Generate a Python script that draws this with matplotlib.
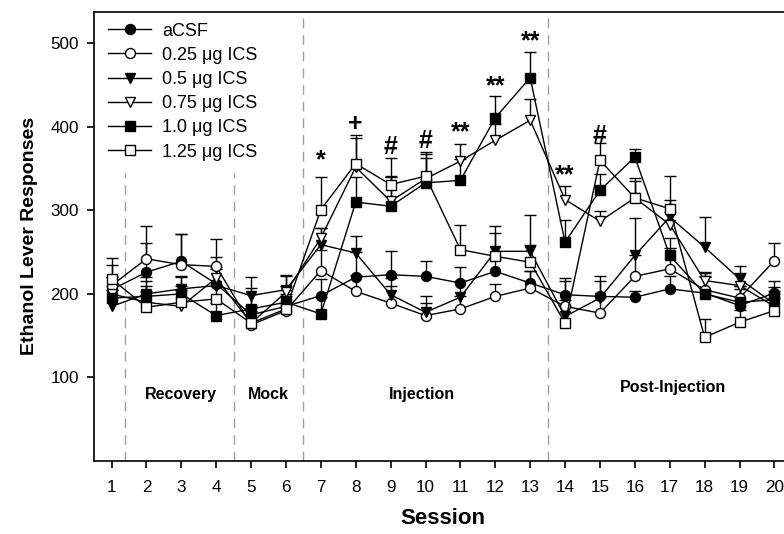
import numpy as np
import matplotlib.pyplot as plt

plt.rcParams['font.family'] = ['Liberation Sans', 'DejaVu Sans']

sessions = np.arange(1, 21)

# mean ethanol lever responses per group, sessions 1-20
acsf = [205, 226, 239, 212, 175, 185, 198, 220, 223, 221, 213, 227, 213, 199, 197, 196, 206, 201, 186, 201]
ics_025 = [210, 242, 235, 233, 163, 180, 228, 203, 189, 174, 182, 197, 207, 185, 177, 221, 230, 205, 195, 240]
ics_05 = [185, 200, 206, 210, 198, 205, 259, 249, 199, 178, 196, 251, 251, 173, 195, 246, 292, 256, 218, 188]
ics_075 = [200, 190, 185, 219, 165, 202, 267, 352, 311, 338, 359, 384, 408, 313, 287, 315, 283, 216, 210, 185]
ics_10 = [195, 197, 200, 174, 182, 190, 176, 310, 305, 333, 336, 411, 459, 262, 324, 364, 246, 200, 190, 193]
ics_125 = [218, 184, 190, 194, 165, 182, 301, 356, 331, 341, 253, 245, 238, 165, 360, 315, 302, 148, 166, 180]

# upper SEM
acsf_err = [15, 35, 33, 20, 25, 20, 20, 30, 28, 18, 19, 15, 15, 20, 24, 8, 15, 20, 20, 15]
ics_025_err = [25, 39, 37, 33, 20, 20, 25, 20, 20, 15, 15, 15, 20, 30, 20, 25, 25, 20, 15, 21]
ics_05_err = [20, 20, 15, 20, 22, 18, 20, 20, 20, 20, 20, 30, 43, 20, 20, 45, 20, 36, 15, 15]
ics_075_err = [20, 20, 20, 25, 20, 20, 12, 35, 30, 30, 21, 20, 26, 16, 12, 20, 15, 10, 15, 15]
ics_10_err = [15, 18, 20, 15, 25, 20, 20, 30, 35, 30, 25, 26, 31, 26, 20, 9, 21, 20, 20, 15]
ics_125_err = [25, 20, 20, 15, 15, 15, 39, 34, 32, 29, 30, 28, 20, 20, 21, 24, 39, 22, 15, 15]

labels = ['aCSF', '0.25 \u03bcg ICS', '0.5 \u03bcg ICS', '0.75 \u03bcg ICS', '1.0 \u03bcg ICS', '1.25 \u03bcg ICS']
means = [acsf, ics_025, ics_05, ics_075, ics_10, ics_125]
errs = [acsf_err, ics_025_err, ics_05_err, ics_075_err, ics_10_err, ics_125_err]
markers = ['o', 'o', 'v', 'v', 's', 's']
filled = [True, False, True, False, True, False]

# significance marks above points
sig_x = [7, 8, 9, 10, 11, 12, 13, 14, 15]
sig_y = [360, 404, 376, 383, 394, 449, 503, 342, 389]
sig_txt = ['*', '+', '#', '#', '**', '**', '**', '**', '#']

phase_names = ['Recovery', 'Mock', 'Injection', 'Post-Injection']
phase_x = [3.0, 5.5, 9.9, 17.1]
phase_y = [79, 80, 80, 88]
dividers_short = [1.4, 4.5]
dividers_full = [6.5, 13.5]

fig = plt.figure(figsize=(7.84, 5.34), dpi=100)
ax = fig.add_axes([0.12, 0.137, 0.89, 0.841])

for xv in dividers_short:
    ax.plot([xv, xv], [0, 345], color='#a0a0a0', lw=1, ls=(0, (7, 5)), zorder=1)
for xv in dividers_full:
    ax.axvline(xv, color='#a0a0a0', lw=1, ls=(0, (7, 5)), zorder=1)

for m, e in zip(means, errs):
    eb = ax.errorbar(sessions, m, yerr=[np.zeros(len(e)), e], fmt='none',
                     ecolor='black', elinewidth=1, capsize=4, capthick=1, zorder=2)
    eb[1][0].set_visible(False)

for m, lab, mk, f in zip(means, labels, markers, filled):
    ms = 6.5 if mk == 's' else 7.2
    ax.plot(sessions, m, color='black', lw=1, marker=mk, ms=ms,
            mfc='black' if f else 'white', mec='black', mew=1, label=lab, zorder=3)

for xs, ys, t in zip(sig_x, sig_y, sig_txt):
    ax.text(xs, ys, t, ha='center', va='center', fontsize=18, fontweight='bold')

for nm, xs, ys in zip(phase_names, phase_x, phase_y):
    ax.text(xs, ys, nm, ha='center', va='center', fontsize=11.5, fontweight='bold',
            family=['Liberation Sans Narrow', 'Liberation Sans'])

ax.set_xlim(0.5, 20.5)
ax.set_ylim(0, 538)
ax.set_xticks(sessions)
ax.set_yticks([100, 200, 300, 400, 500])
ax.tick_params(axis='both', direction='out', length=5, width=1.2, labelsize=12.3)
ax.tick_params(axis='x', pad=9)
ax.tick_params(axis='y', pad=6)
for sp in ax.spines.values():
    sp.set_linewidth(1.2)

ax.set_xlabel('Session', fontsize=16, fontweight='bold', labelpad=9,
              family=['Liberation Sans Narrow', 'Liberation Sans'])
ax.set_ylabel('Ethanol Lever Responses', fontsize=14, fontweight='bold', labelpad=9)

ax.legend(loc='upper left', bbox_to_anchor=(0.0123, 0.988), frameon=False,
          fontsize=13, handlelength=2.4, labelspacing=0.4, borderaxespad=0,
          borderpad=0.3, handletextpad=0.6)

fig.savefig('out.png', dpi=100)
